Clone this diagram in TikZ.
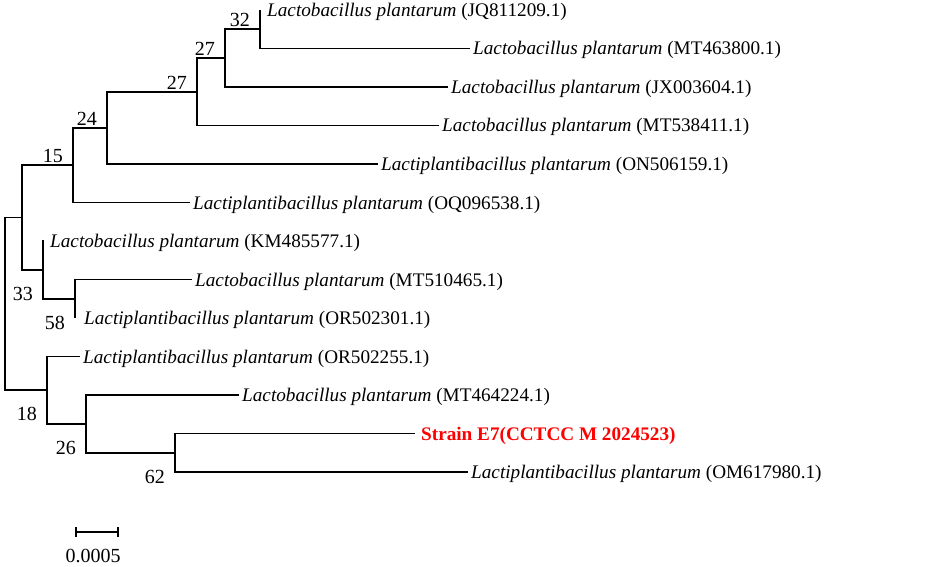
\documentclass[tikz,border=0pt]{standalone}
\usepackage{fontspec}
\setmainfont{Liberation Serif}
\definecolor{strainred}{RGB}{255,0,0}
\begin{document}
\begin{tikzpicture}[x=1pt,y=-1pt,
  br/.style={line width=1.8pt, line join=miter},
  leaf/.style={anchor=base west, inner xsep=3pt, inner ysep=0pt, yshift=-6.5pt, font=\fontsize{19.2}{22}\selectfont},
  bs/.style={anchor=base east, inner sep=0pt, font=\fontsize{20}{22}\selectfont},
  strain/.style={leaf, text=strainred, font=\fontsize{19.2}{22}\selectfont\bfseries, inner xsep=6pt}]
\useasboundingbox (0,0) rectangle (935,567);
% leaf tips
\coordinate (t1) at (260,10);
\coordinate (t2) at (470,48.5);
\coordinate (t3) at (448,87);
\coordinate (t4) at (439,125.5);
\coordinate (t5) at (378,164);
\coordinate (t6) at (190,202.5);
\coordinate (t7) at (43,240);
\coordinate (t8) at (192,279.5);
\coordinate (t9) at (75,318);
\coordinate (t10) at (80,356.5);
\coordinate (t11) at (239,395);
\coordinate (t12) at (415,433.5);
\coordinate (t13) at (468,472);
% internal nodes
\coordinate (n32) at (260,29);
\coordinate (n27a) at (225,58);
\coordinate (n27b) at (197,92);
\coordinate (n24) at (107,128);
\coordinate (n15) at (73,165);
\coordinate (n58) at (75,299);
\coordinate (n33) at (43,270);
\coordinate (nA) at (22,217.5);
\coordinate (n62) at (175,453);
\coordinate (n26) at (86,424);
\coordinate (n18) at (47,390);
\coordinate (root) at (5,304);
% branches
\draw[br] (root) |- (nA);
\draw[br] (root) |- (n18);
\draw[br] (nA) |- (n15);
\draw[br] (nA) |- (n33);
\draw[br] (n15) |- (n24);
\draw[br] (n15) |- (t6);
\draw[br] (n24) |- (n27b);
\draw[br] (n24) |- (t5);
\draw[br] (n27b) |- (n27a);
\draw[br] (n27b) |- (t4);
\draw[br] (n27a) |- (n32);
\draw[br] (n27a) |- (t3);
\draw[br] (n32) |- (t1);
\draw[br] (n32) |- (t2);
\draw[br] (n33) |- (t7);
\draw[br] (n33) |- (n58);
\draw[br] (n58) |- (t8);
\draw[br] (n58) |- (t9);
\draw[br] (n18) |- (t10);
\draw[br] (n18) |- (n26);
\draw[br] (n26) |- (t11);
\draw[br] (n26) |- (n62);
\draw[br] (n62) |- (t12);
\draw[br] (n62) |- (t13);
% leaf labels
\node[leaf] (L1) at ([xshift=4pt]t1) {\textit{Lactobacillus plantarum} (JQ811209.1)};
\node[leaf] (L2) at (t2) {\textit{Lactobacillus plantarum} (MT463800.1)};
\node[leaf] (L3) at (t3) {\textit{Lactobacillus plantarum} (JX003604.1)};
\node[leaf] (L4) at (t4) {\textit{Lactobacillus plantarum} (MT538411.1)};
\node[leaf] (L5) at (t5) {\textit{Lactiplantibacillus plantarum} (ON506159.1)};
\node[leaf] (L6) at (t6) {\textit{Lactiplantibacillus plantarum} (OQ096538.1)};
\node[leaf] (L7) at ([xshift=4pt,yshift=-1pt]t7) {\textit{Lactobacillus plantarum} (KM485577.1)};
\node[leaf] (L8) at (t8) {\textit{Lactobacillus plantarum} (MT510465.1)};
\node[leaf] (L9) at ([xshift=6pt]t9) {\textit{Lactiplantibacillus plantarum} (OR502301.1)};
\node[leaf] (L10) at (t10) {\textit{Lactiplantibacillus plantarum} (OR502255.1)};
\node[leaf] (L11) at (t11) {\textit{Lactobacillus plantarum} (MT464224.1)};
\node[strain] (L12) at (t12) {Strain E7(CCTCC M 2024523)};
\node[leaf] (L13) at (t13) {\textit{Lactiplantibacillus plantarum} (OM617980.1)};
% bootstrap values
\node[bs] (b32) at ([shift={(-10,-2)}]n32) {32};
\node[bs] (b27a) at ([shift={(-10,-2)}]n27a) {27};
\node[bs] (b27b) at ([shift={(-10,-2)}]n27b) {27};
\node[bs] (b24) at ([shift={(-10,-2)}]n24) {24};
\node[bs] (b15) at ([shift={(-10,-2)}]n15) {15};
\node[bs] (b33) at ([shift={(-10,30)}]n33) {33};
\node[bs] (b58) at ([shift={(-10,30)}]n58) {58};
\node[bs] (b18) at ([shift={(-10,30)}]n18) {18};
\node[bs] (b26) at ([shift={(-10,30)}]n26) {26};
\node[bs] (b62) at ([shift={(-10,30)}]n62) {62};
% scale bar
\coordinate (sbL) at (76,532);
\coordinate (sbR) at (118,532);
\draw[br] (sbL) -- (sbR);
\draw[br] ([yshift=5pt]sbL) -- ([yshift=-5pt]sbL);
\draw[br] ([yshift=5pt]sbR) -- ([yshift=-5pt]sbR);
\node[anchor=base, inner sep=0pt, font=\fontsize{20}{22}\selectfont] (sbT) at (93,562) {0.0005};
\end{tikzpicture}
\end{document}
